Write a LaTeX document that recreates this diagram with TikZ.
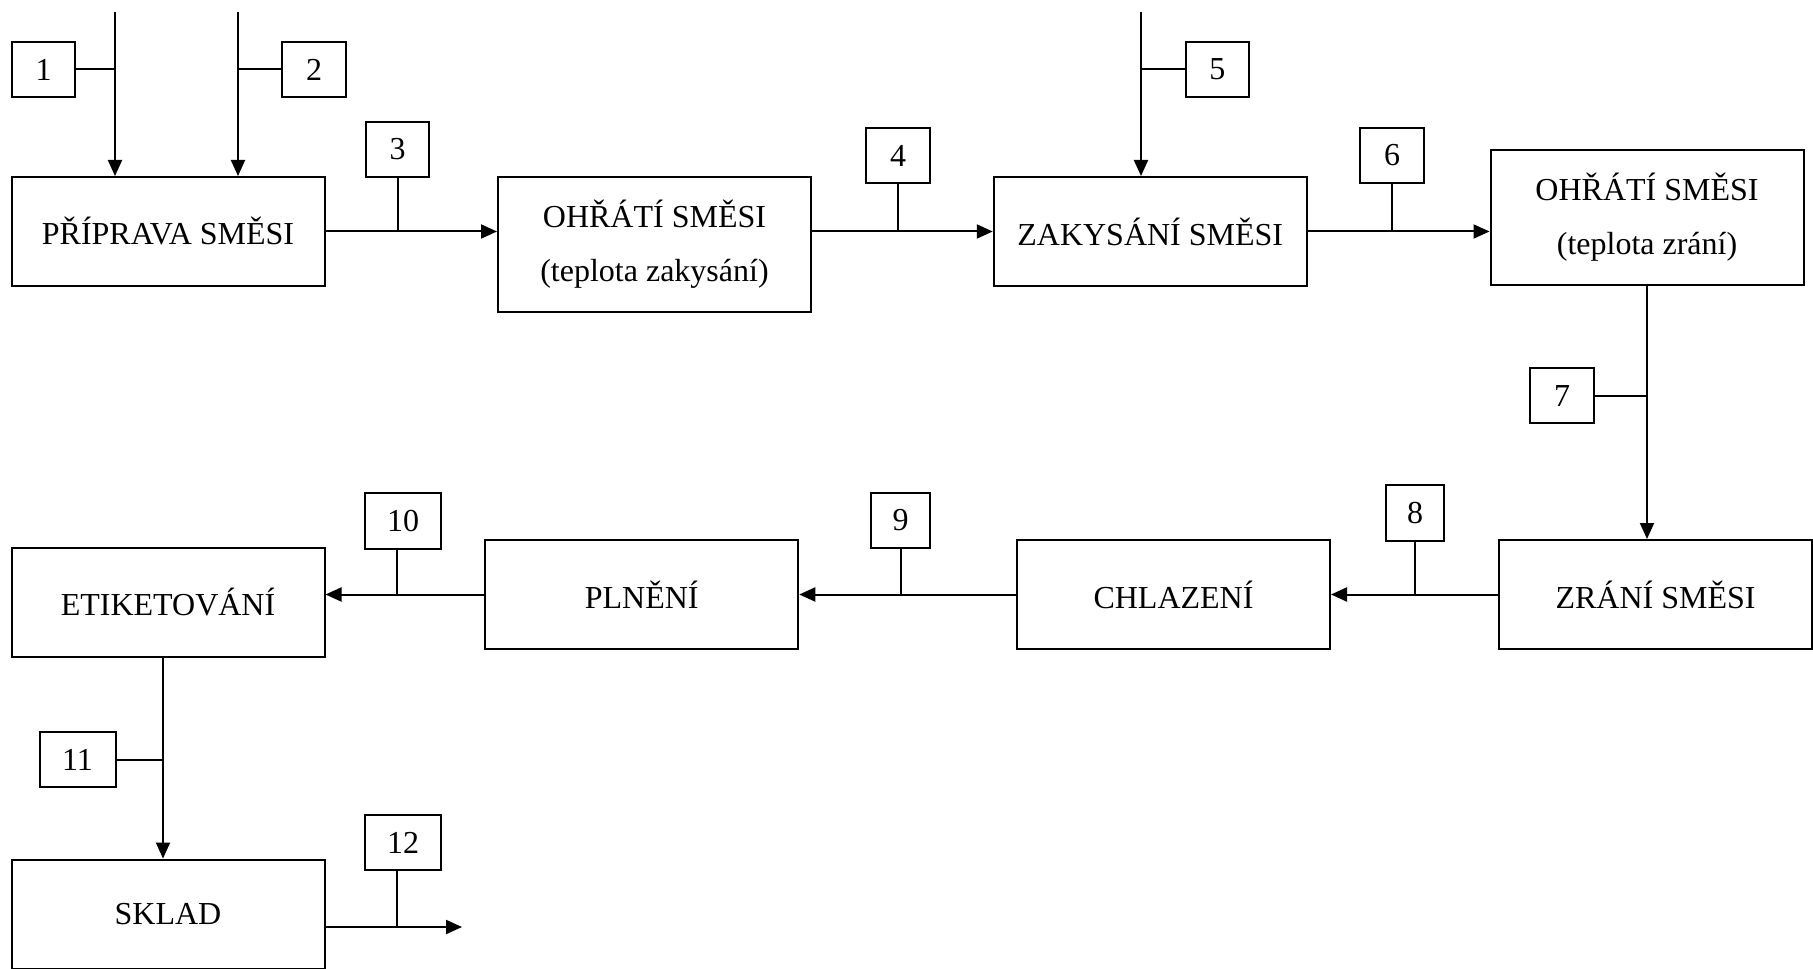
\documentclass[tikz,border=0pt]{standalone}
\usepackage{fontspec}
\setmainfont{Liberation Serif}
\usetikzlibrary{arrows.meta}
\begin{document}
\begin{tikzpicture}[x=0.75pt, y=-0.75pt,
  every node/.style={inner sep=0pt, font=\fontsize{24}{40.5}\selectfont},
  proc/.style={draw, line width=1.5pt, minimum width=234.75pt, minimum height=81.75pt, align=center},
  tall/.style={minimum height=101.5pt},
  numbox/.style={draw, line width=1.5pt, minimum width=47.5pt, minimum height=41.25pt},
  widenum/.style={minimum width=57pt},
  narrownum/.style={minimum width=44pt},
  flow/.style={line width=1.5pt, -{Triangle[length=12pt, width=10.5pt]}},
  tap/.style={line width=1.5pt}
]
\useasboundingbox (0,0) rectangle (1813,969);

% process steps
\node[proc] (A) at (168,231.5) {PŘÍPRAVA SMĚSI};
\node[proc, tall] (B) at (654.5,244.5) {OHŘÁTÍ SMĚSI\\(teplota zakysání)};
\node[proc] (C) at (1150.25,231.5) {ZAKYSÁNÍ SMĚSI};
\node[proc, tall] (D) at (1647,217.5) {OHŘÁTÍ SMĚSI\\(teplota zrání)};
\node[proc] (E) at (1655.5,594.5) {ZRÁNÍ SMĚSI};
\node[proc] (F) at (1173.5,594.5) {CHLAZENÍ};
\node[proc] (G) at (641.75,594.5) {PLNĚNÍ};
\node[proc] (H) at (168,602.5) {ETIKETOVÁNÍ};
\node[proc] (I) at (168,914) {SKLAD};

% numbered check points
\node[numbox] (n1) at (43.5,69.5) {1};
\node[numbox] (n2) at (314,69.5) {2};
\node[numbox] (n3) at (397.5,149.5) {3};
\node[numbox] (n4) at (898,155.5) {4};
\node[numbox] (n5) at (1217.3,69.5) {5};
\node[numbox] (n6) at (1392,155.5) {6};
\node[numbox] (n7) at (1562,396) {7};
\node[numbox, narrownum] (n8) at (1415,513) {8};
\node[numbox, narrownum] (n9) at (900.5,520.5) {9};
\node[numbox, widenum] (n10) at (403,521) {10};
\node[numbox, widenum] (n11) at (77.5,759.5) {11};
\node[numbox, widenum] (n12) at (403,842.5) {12};

% free ends of the incoming feeds and of the outgoing product
\coordinate (t1) at (115,12);
\coordinate (t2) at (238,12);
\coordinate (t5) at (1141,12);
\coordinate (hv) at (163,657);
\coordinate (out) at (462,927);

% feeds into the mixing and inoculation steps
\draw[flow] (t1) -- (t1 |- A.north);
\draw[flow] (t2) -- (t2 |- A.north);
\draw[flow] (t5) -- (t5 |- C.north);
\draw[tap] (n1.east) -- (n1.east -| t1);
\draw[tap] (n2.west) -- (n2.west -| t2);
\draw[tap] (n5.west) -- (n5.west -| t5);

% upper row
\draw[flow] (A.east) -- (A.east -| B.west);
\draw[flow] (B.east |- A.east) -- (A.east -| C.west);
\draw[flow] (C.east) -- (C.east -| D.west);
\draw[tap] (n3.south) -- (n3.south |- A.east);
\draw[tap] (n4.south) -- (n4.south |- A.east);
\draw[tap] (n6.south) -- (n6.south |- C.east);

% down to ripening
\draw[flow] (D.south) -- (D.south |- E.north);
\draw[tap] (n7.east) -- (n7.east -| D.south);

% lower row, right to left
\draw[flow] (E.west) -- (E.west -| F.east);
\draw[flow] (F.west) -- (F.west -| G.east);
\draw[flow] (G.west) -- (G.west -| H.east);
\draw[tap] (n8.south) -- (n8.south |- E.west);
\draw[tap] (n9.south) -- (n9.south |- F.west);
\draw[tap] ([xshift=-4.5pt]n10.south) -- ([xshift=-4.5pt]n10.south |- G.west);

% labelling to storage and dispatch
\draw[flow] (hv) -- (hv |- I.north);
\draw[tap] (n11.east) -- (n11.east -| hv);
\draw[flow] (I.east |- out) -- (out);
\draw[tap] ([xshift=-4.5pt]n12.south) -- ([xshift=-4.5pt]n12.south |- out);
\end{tikzpicture}
\end{document}
